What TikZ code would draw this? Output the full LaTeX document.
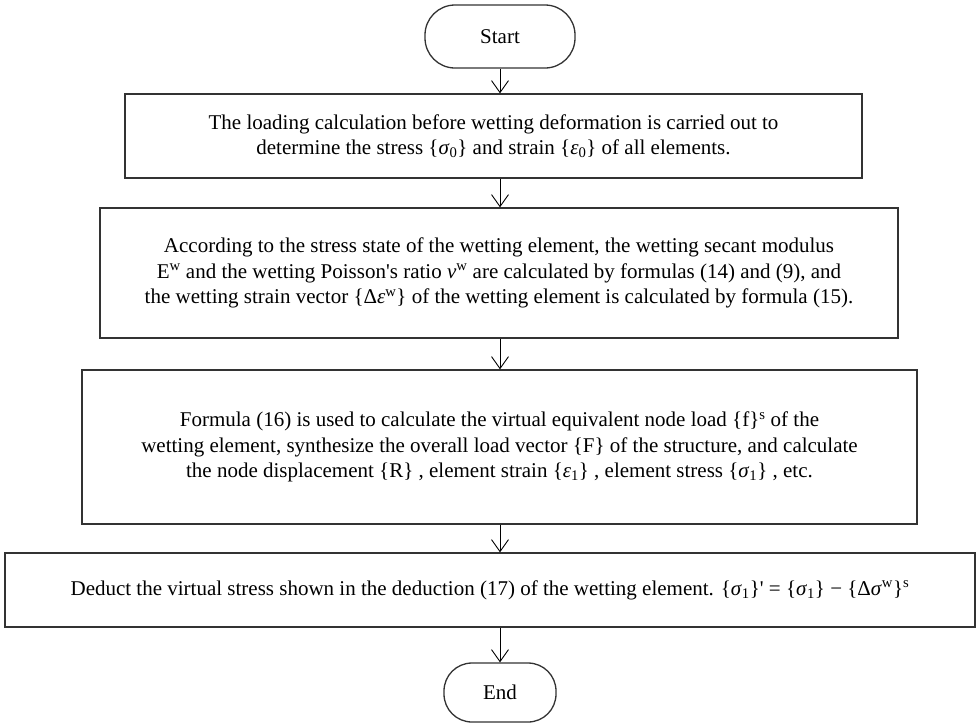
\documentclass[tikz,border=0pt]{standalone}
\usepackage{fontspec}
\setmainfont{Liberation Serif}
\usetikzlibrary{arrows.meta}
\newcommand\mysig{\textit{σ}}
\newcommand\myeps{\textit{ε}}
\newcommand\mynu{\textit{ν}}
\newcommand\mysb[1]{\textsubscript{#1}}
\newcommand\mysp[1]{\textsuperscript{#1}}
\definecolor{boxline}{HTML}{333333}
\tikzset{
  every node/.style={font=\fontsize{21}{25.5}\selectfont},
  procbox/.style={draw=boxline, line width=1.3pt, inner sep=0pt, align=center},
  termbox/.style={draw=boxline, line width=1.3pt, inner sep=0pt, align=center},
  flowarr/.style={draw=black, line width=0.9pt, -{Straight Barb[length=12pt,width=17pt,line width=0.9pt]}}
}
\begin{document}
\begin{tikzpicture}[x=1pt,y=-1pt]
\useasboundingbox (0,0) rectangle (980,724);
\node[termbox, rounded corners=30pt, minimum width=150pt, minimum height=63pt] (start) at (500,36.5) {Start};
\node[procbox, minimum width=737pt, minimum height=84pt] (b1) at (493.5,136)
 {The loading calculation before wetting deformation is carried out to\\
  determine the stress \{\mysig\mysb{0}\} and strain \{\myeps\mysb{0}\} of all elements.};
\node[procbox, minimum width=798pt, minimum height=130pt] (b2) at (499,273)
 {According to the stress state of the wetting element, the wetting secant modulus\\
  E\mysp{w} and the wetting Poisson\textquotesingle s ratio \mynu\mysp{w} are calculated by formulas (14) and (9), and\\
  the wetting strain vector \{Δ\myeps\mysp{w}\} of the wetting element is calculated by formula (15).};
\node[procbox, minimum width=835pt, minimum height=154pt] (b3) at (499.5,447)
 {Formula (16) is used to calculate the virtual equivalent node load \{f\}\mysp{s} of the\\
  wetting element, synthesize the overall load vector \{F\} of the structure, and calculate\\
  the node displacement \{R\} , element strain \{\myeps\mysb{1}\} , element stress \{\mysig\mysb{1}\} , etc.};
\node[procbox, minimum width=970pt, minimum height=74pt] (b4) at (490,590)
 {Deduct the virtual stress shown in the deduction (17) of the wetting element. \{\mysig\mysb{1}\}\textquotesingle{} = \{\mysig\mysb{1}\} − \{Δ\mysig\mysp{w}\}\mysp{s}};
\node[termbox, rounded corners=28pt, minimum width=112pt, minimum height=59pt] (end) at (500,692.5) {End};
\draw[flowarr] (start.south) -- (start.south |- b1.north);
\draw[flowarr] (start.south |- b1.south) -- (start.south |- b2.north);
\draw[flowarr] (start.south |- b2.south) -- (start.south |- b3.north);
\draw[flowarr] (start.south |- b3.south) -- (start.south |- b4.north);
\draw[flowarr] (start.south |- b4.south) -- (end.north);
\end{tikzpicture}
\end{document}
